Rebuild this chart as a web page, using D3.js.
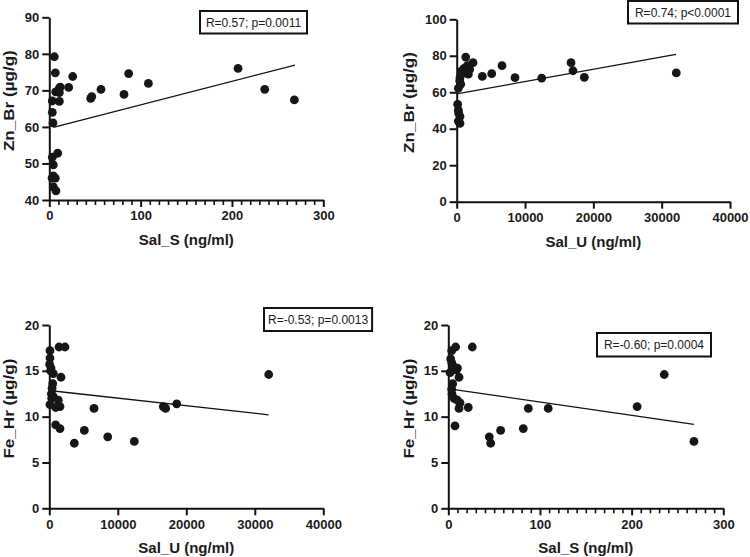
<!DOCTYPE html>
<html><head><meta charset="utf-8">
<script src="https://cdn.jsdelivr.net/npm/d3@7/dist/d3.min.js"></script>
<style>
body{margin:0;background:#fff;}
svg{display:block;font-family:"Liberation Sans",Arial,sans-serif;}
</style></head>
<body>
<svg id="chart" width="750" height="557"></svg>
<script>
// ---- Panel A: Zn_Br vs Sal_S ----
const salS_A = [5.5, 6.6, 25.6, 21.2, 11, 7, 11, 3.3, 11, 3.3, 4, 9.2, 3.3, 4.4, 4.4, 6.6, 4.4, 7.3, 45.3, 46.5, 56.6, 81.8, 86.9, 108.5, 206.7, 235.9, 268.3, 12, 3];
const znBr_A = [79.2, 74.8, 73.8, 70.8, 70.6, 69.6, 69.4, 67.1, 67.0, 64.0, 61.1, 52.8, 51.7, 49.6, 46.6, 46.0, 43.6, 42.5, 67.8, 68.3, 70.3, 68.9, 74.6, 71.9, 76.0, 70.3, 67.4, 70.9, 46];
const fitX_A = [4.4, 269], fitY_A = [59.9, 76.9];
const label_A = "R=0.57; p=0.0011";

// ---- Panel B: Zn_Br vs Sal_U ----
const salU_B = [1320, 2390, 1550, 1070, 730, 1700, 480, 440, 590, 240, 3750, 5120, 6630, 8530, 12440, 16730, 17020, 18680, 32140, 140, 240, 290, 480, 240, 480, 900, 1900];
const znBr_B = [79.3, 76.2, 74.6, 73.1, 71.7, 69.9, 68, 66.2, 64.4, 62.2, 68.7, 70.2, 74.6, 68, 67.7, 76.2, 71.8, 68.2, 70.6, 53.4, 50.2, 48.5, 46.7, 44.2, 43, 70.5, 72.5];
const fitX_B = [200, 32100], fitY_B = [59.2, 80.8];
const label_B = "R=0.74; p<0.0001";

// ---- Panel C: Fe_Hr vs Sal_U ----
const salU_C = [1420, 2290, 100, 100, 50, 250, 590, 1710, 500, 400, 300, 350, 1310, 100, 930, 1560, 6530, 930, 1560, 5110, 3650, 8530, 12410, 16640, 16980, 18600, 32030, 600, 200];
const feHr_C = [17.6, 17.6, 17.2, 16.4, 15.7, 15.3, 14.7, 14.3, 13.6, 13.1, 12.5, 12.0, 11.8, 11.3, 11.0, 11.1, 10.9, 9.1, 8.7, 8.5, 7.1, 7.8, 7.3, 11.1, 10.9, 11.4, 14.6, 12.2, 15.0];
const fitX_C = [600, 32000], fitY_C = [12.8, 10.2];
const label_C = "R=-0.53; p=0.0013";

// ---- Panel D: Fe_Hr vs Sal_S ----
const salS_D = [8, 26.2, 3.7, 2.6, 3.7, 5.5, 8.7, 11.7, 4.8, 3.7, 4, 6.2, 9.8, 12.8, 11.7, 21.8, 87.3, 109, 206, 235.6, 268, 7.3, 57.1, 81.8, 44.7, 46.2, 10, 2];
const feHr_D = [17.6, 17.6, 17.2, 16.3, 15.9, 15.5, 15.1, 14.3, 13.6, 13.0, 12.5, 12.0, 11.8, 11.5, 10.9, 11.0, 10.9, 10.9, 11.1, 14.6, 7.3, 9.0, 8.5, 8.7, 7.8, 7.1, 15.3, 14.8];
const fitX_D = [3, 268], fitY_D = [13.0, 9.15];
const label_D = "R=-0.60; p=0.0004";

// tick values
const ticksSalS = [0, 100, 200, 300];
const ticksSalU = [0, 10000, 20000, 30000, 40000];
const ticksZnA = [40, 50, 60, 70, 80, 90];
const ticksZnB = [0, 20, 40, 60, 80, 100];
const ticksFe = [0, 5, 10, 15, 20];

const panels = [
  {xs: salS_A, ys: znBr_A, fx: fitX_A, fy: fitY_A, label: label_A,
   xDom: [0, 300], yDom: [40, 90], xTicks: ticksSalS, yTicks: ticksZnA, minor: 10,
   xTitle: "Sal_S (ng/ml)", yTitle: "Zn_Br (\u00b5g/g)",
   px: [49.3, 323.3], py: [200, 17.3], box: [200, 11, 107, 22.5], ytx: 13.5},
  {xs: salU_B, ys: znBr_B, fx: fitX_B, fy: fitY_B, label: label_B,
   xDom: [0, 40000], yDom: [0, 100], xTicks: ticksSalU, yTicks: ticksZnB, minor: null,
   xTitle: "Sal_U (ng/ml)", yTitle: "Zn_Br (\u00b5g/g)",
   px: [456.7, 730], py: [201.7, 19.3], box: [628, 1, 110, 22.5], ytx: 414},
  {xs: salU_C, ys: feHr_C, fx: fitX_C, fy: fitY_C, label: label_C,
   xDom: [0, 40000], yDom: [0, 20], xTicks: ticksSalU, yTicks: ticksFe, minor: null,
   xTitle: "Sal_U (ng/ml)", yTitle: "Fe_Hr (\u00b5g/g)",
   px: [49.3, 323.3], py: [508.3, 325], box: [264, 308, 98, 23], ytx: 13.5},
  {xs: salS_D, ys: feHr_D, fx: fitX_D, fy: fitY_D, label: label_D,
   xDom: [0, 300], yDom: [0, 20], xTicks: ticksSalS, yTicks: ticksFe, minor: 10,
   xTitle: "Sal_S (ng/ml)", yTitle: "Fe_Hr (\u00b5g/g)",
   px: [448.3, 723.3], py: [508.3, 325], box: [597, 333, 114, 23.5], ytx: 413.5}
];

const svg = d3.select("#chart");

panels.forEach(p => {
  const x = d3.scaleLinear().domain(p.xDom).range(p.px);
  const y = d3.scaleLinear().domain(p.yDom).range(p.py);
  const g = svg.append("g");

  // minor x ticks
  if (p.minor) {
    const minorVals = d3.range(p.xDom[0], p.xDom[1] + 0.001, p.minor).filter(v => !p.xTicks.includes(v));
    g.append("g").attr("transform", `translate(0,${p.py[0]})`)
      .call(d3.axisBottom(x).tickValues(minorVals).tickSize(5).tickFormat(""))
      .call(a => a.select(".domain").remove())
      .call(a => a.selectAll("line").attr("stroke", "#111").attr("stroke-width", 1.6));
  }
  // x axis
  const xa = g.append("g").attr("transform", `translate(0,${p.py[0]})`)
    .call(d3.axisBottom(x).tickValues(p.xTicks).tickSize(7).tickSizeOuter(0).tickPadding(4).tickFormat(d3.format("d")));
  xa.select(".domain").attr("stroke", "#111").attr("stroke-width", 2);
  xa.selectAll("line").attr("stroke", "#111").attr("stroke-width", 2);
  xa.selectAll("text").attr("font-size", 13).attr("font-weight", "bold").attr("fill", "#1a1a1a").attr("font-family", "Liberation Sans, Arial, sans-serif");

  // y axis
  const ya = g.append("g").attr("transform", `translate(${p.px[0]},0)`)
    .call(d3.axisLeft(y).tickValues(p.yTicks).tickSize(7).tickSizeOuter(0).tickPadding(3));
  ya.select(".domain").attr("stroke", "#111").attr("stroke-width", 2);
  ya.selectAll("line").attr("stroke", "#111").attr("stroke-width", 2);
  ya.selectAll("text").attr("font-size", 13).attr("font-weight", "bold").attr("fill", "#1a1a1a").attr("font-family", "Liberation Sans, Arial, sans-serif");

  // titles
  g.append("text").attr("x", (p.px[0] + p.px[1]) / 2).attr("y", p.py[0] + 45)
    .attr("text-anchor", "middle").attr("font-size", 15).attr("font-weight", "bold").attr("fill", "#1a1a1a")
    .text(p.xTitle);
  g.append("text")
    .attr("transform", `translate(${p.ytx},${(p.py[0] + p.py[1]) / 2 - 8}) rotate(-90) scale(1.22,1)`)
    .attr("text-anchor", "middle").attr("font-size", 14).attr("font-weight", "bold").attr("fill", "#1a1a1a")
    .text(p.yTitle);

  // points
  g.append("g").selectAll("circle").data(p.xs.map((v, i) => [v, p.ys[i]])).join("circle")
    .attr("cx", d => x(d[0])).attr("cy", d => y(d[1])).attr("r", 4.4).attr("fill", "#161616");

  // fit line
  g.append("line").attr("x1", x(p.fx[0])).attr("y1", y(p.fy[0])).attr("x2", x(p.fx[1])).attr("y2", y(p.fy[1]))
    .attr("stroke", "#111").attr("stroke-width", 1.3);

  // stats box (sized to fit its text)
  const [bx, by, bw, bh] = p.box;
  const rect = g.append("rect").attr("x", bx).attr("y", by).attr("height", bh)
    .attr("fill", "#fff").attr("stroke", "#111").attr("stroke-width", 2);
  const t = g.append("text").attr("y", by + bh / 2 + 4.3).attr("text-anchor", "middle")
    .attr("font-size", 12).attr("fill", "#1a1a1a").text(p.label);
  const w = Math.max(bw, t.node().getComputedTextLength() + 8);
  rect.attr("width", w);
  t.attr("x", bx + w / 2);
});
</script>
</body></html>
